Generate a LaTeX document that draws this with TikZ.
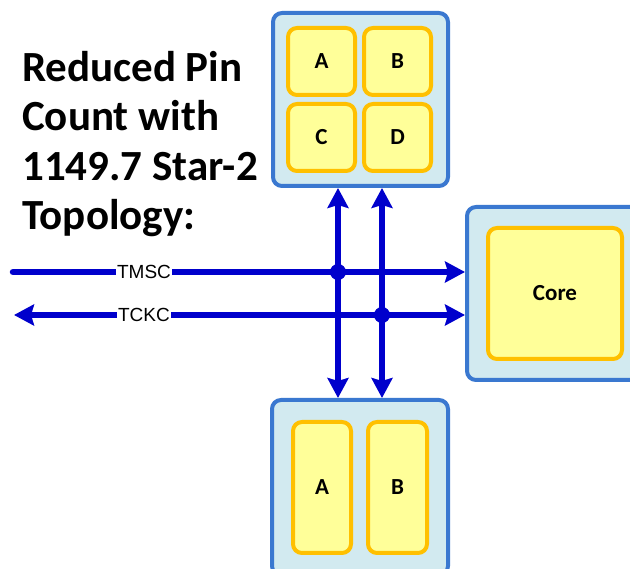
\documentclass[tikz,border=0pt]{standalone}
\usepackage{fontspec}
\usepackage{tikz}
\usetikzlibrary{positioning,arrows.meta,calc}
\newfontfamily\calib{Carlito}
\newfontfamily\arialfont{Liberation Sans}
\definecolor{FrameBlue}{RGB}{58,120,208}
\definecolor{FrameFill}{RGB}{210,234,240}
\definecolor{ChipGold}{RGB}{255,192,0}
\definecolor{ChipFill}{RGB}{255,255,153}
\definecolor{WireBlue}{RGB}{0,0,204}

\begin{document}
\begin{tikzpicture}[
    x=1pt, y=-1pt,
    frame/.style={rectangle, draw=FrameBlue, line width=4pt, rounded corners=9pt, fill=FrameFill},
    chip/.style={rectangle, draw=ChipGold, line width=4pt, rounded corners=9pt, fill=ChipFill, font=\calib\bfseries\fontsize{23}{26}\selectfont, text centered},
    wire/.style={draw=WireBlue, line width=6.5pt, >={Stealth[length=20pt,width=21pt,inset=3pt]}},
    lbl/.style={fill=white, inner sep=1pt, font=\arialfont\fontsize{19}{22}\selectfont}
]
\clip (0,0) rectangle (630,569);
% Place nodes
\node [frame, minimum width=175pt, minimum height=173pt] (topframe) at (360.5,99.5) {};
\node [chip, minimum width=67pt, minimum height=67pt] (topA) at (321.5,61.5) {A};
\node [chip, minimum width=67pt, minimum height=67pt] (topB) at (397.5,61.5) {B};
\node [chip, minimum width=67pt, minimum height=67pt] (topC) at (321.5,137.5) {C};
\node [chip, minimum width=67pt, minimum height=67pt] (topD) at (397.5,137.5) {D};

\node [frame, minimum width=190pt, minimum height=173pt] (coreframe) at (562,293.5) {};
\node [chip, minimum width=134pt, minimum height=131pt] (core) at (555,293.5) {Core};

\node [frame, minimum width=176pt, minimum height=175pt] (botframe) at (360,487.5) {};
\node [chip, minimum width=58pt, minimum height=131pt] (botA) at (322,487.5) {A};
\node [chip, minimum width=59pt, minimum height=131pt] (botB) at (397.5,487.5) {B};

\node [anchor=north west, inner sep=0pt, align=left, font=\calib\bfseries\fontsize{43}{49.5}\selectfont] (title) at (22,51) {Reduced Pin\\Count with\\1149.7 Star-2\\Topology:};

\coordinate (tmsin) at (13,272);
\coordinate (tckout) at (14,315);
\coordinate (j1) at (338,272);
\coordinate (j2) at (382,315);

% Draw edges
\draw [wire, ->, line cap=round] (tmsin) -- (tmsin -| coreframe.west);
\draw [wire, <->] (tckout) -- (tckout -| coreframe.west);
\draw [wire, <->] (j1 |- topframe.south) -- (j1 |- botframe.north);
\draw [wire, <->] (j2 |- topframe.south) -- (j2 |- botframe.north);
\fill [WireBlue] (j1) circle (8);
\fill [WireBlue] (j2) circle (8);
\node [lbl] (tmsc) at (144,272) {TMSC};
\node [lbl] (tckc) at (144,315) {TCKC};
\end{tikzpicture}
\end{document}
